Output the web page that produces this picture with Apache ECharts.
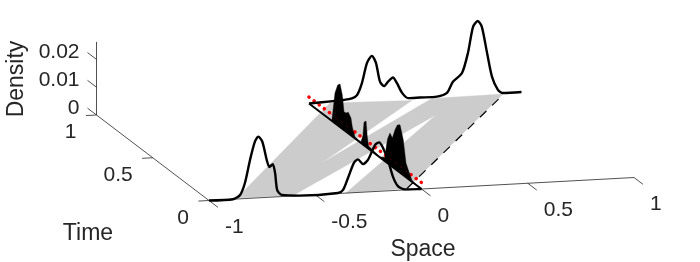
<!DOCTYPE html>
<html><head><meta charset="utf-8">
<style>html,body{margin:0;padding:0;background:#fff}#c{width:700px;height:262px}</style>
<script src="https://cdn.jsdelivr.net/npm/echarts@6/dist/echarts.min.js"></script>
</head><body><div id="c"></div>
<script>
// --- data ---
const frontSpace = [-1,-.887,-.854,-.831,-.807,-.784,-.768,-.749,-.728,-.716,-.700,-.689,-.679,-.658,-.572,-.393,-.369,-.346,-.318,-.299,-.275,-.252,-.219,-.199,-.181,-.158,-.134,-.111,-.078,-.007,0];
const frontDensity = [0,0,.00137,.0056,.0138,.0203,.0220,.0201,.0134,.0109,.0118,.0086,.0024,.0006,0,.0002,.0012,.0054,.0107,.0119,.0101,.0115,.0167,.0176,.0155,.0111,.0049,.0015,.0002,0,0];
const backSpace = [0,.113,.160,.202,.226,.249,.273,.296,.315,.334,.353,.372,.395,.414,.438,.466,.522,.602,.649,.677,.720,.748,.772,.794,.813,.838,.861,.889,.913,1];
const backDensity = [0,.0004,.0006,.0010,.0021,.0063,.0135,.0159,.0133,.0065,.0048,.0063,.0077,.0056,.0020,0,0,0,.0011,.0050,.0080,.0151,.0244,.0264,.0243,.0147,.0061,.0012,0,0];
const histTime = [.796,.769,.745,.724,.704,.689,.671,.651,.627,.615,.591,.538,.520,.511,.493,.482,.471,.369,.324,.311,.300,.280,.259,.236,.215,.191,.162,.138,.108,.084,.049];
const histDensity = [.0003,.0109,.0145,.0155,.0122,.0066,.0067,.0076,.0063,.0034,.0005,.0003,.0034,.0083,.0093,.0040,.0010,.0002,.0015,.0063,.0090,.0115,.0104,.0140,.0164,.0172,.0127,.0051,.0024,.0005,0];
const bandSpace = [-.863,.095,.469,-.288,.568,.907,-.061,-.355,.491,-.602];
const bandTime = [.011,.993,.972,.343,.982,.989,.014,.001,.799,.005];
const dashSpace = [-.061,.907];
const dashTime = [.014,.985];
const redDensity = .0023;
const histSpans = [[.80,.59],[.32,.09]];
const spaceTicks = [-1,-.5,0,.5,1];
const timeTicks = [0,.5,1];
const densityTicks = [0,.01,.02];
const densityTop = .0263;
const spaceLabels = ['-1','-0.5','0','0.5','1'];
const timeLabels = ['0','0.5','1'];
const densityLabels = ['0','0.01','0.02'];

// --- oblique view of (space,time,density) on the page plane ---
const project = (s,t,z) => [209+212.5*(s+1)-112.5*t, 200.5-11.5*(s+1)-85.5*t-2780*z];

const INK='#262626', FONT='"Liberation Sans",Arial,sans-serif';
const line = (pts,o) => ({type:'line',symbol:'none',silent:true,animation:false,clip:false,
  data:pts,lineStyle:{color:o.color,width:o.width,type:o.dash||'solid',cap:o.cap||'butt',join:'round'},smooth:o.smooth||false,z:o.z||2});
const poly = (pts,color,z) => ({type:'custom',silent:true,animation:false,clip:false,z:z,coordinateSystem:'cartesian2d',
  data:[0],renderItem:(p,api)=>({type:'polygon',shape:{points:pts.map(q=>api.coord(q))},style:{fill:color,stroke:color,lineWidth:0.4}})});
const texts = (items,z) => ({type:'custom',silent:true,animation:false,clip:false,z:z,coordinateSystem:'cartesian2d',
  data:items.map((_,i)=>i),renderItem:(p,api)=>{const it=items[api.value(0)];const c=api.coord(it.at);
    return {type:'text',x:c[0]+it.dx,y:c[1]+it.dy,style:{text:it.text,fill:INK,font:'21px '+FONT,align:it.align,verticalAlign:'middle'}};}});

const series=[];
series.push(poly(bandSpace.map((s,i)=>project(s,bandTime[i],0)),'#cccccc',1));
series.push(line(dashSpace.map((s,i)=>project(s,dashTime[i],0)),{color:'#000',width:1.2,dash:[9,8],z:2}));
// axes
const axisStyle={color:INK,width:0.8,z:3};
series.push(line([project(-1,0,0),project(1,0,0)],axisStyle));
series.push(line([project(-1,0,0),project(-1,1,0)],axisStyle));
series.push(line([project(-1,1,0),project(-1,1,densityTop)],axisStyle));
spaceTicks.forEach(s=>series.push(line([project(s,0,0),project(s,-.08,0)],axisStyle)));
timeTicks.forEach(t=>series.push(line([project(-1,t,0),project(-1.05,t,0)],axisStyle)));
densityTicks.forEach(z=>series.push(line([project(-1,1,z),project(-1,1.08,z)],axisStyle)));
// section at space = 0
series.push(line([project(0,1,0),project(0,0,0)],{color:'#000',width:2,z:4}));
series.push(line([project(0,1,redDensity),project(0,0,redDensity)],{color:'#ff0000',width:3.6,dash:[0.01,6.4],cap:'round',z:5}));
series.push(poly([project(0,histTime[0],0),...histTime.map((t,i)=>project(0,t,histDensity[i])),project(0,histTime[histTime.length-1],0)],'#000',6));
histSpans.forEach(sp=>series.push(line([project(0,sp[0],redDensity),project(0,sp[1],redDensity)],{color:'#c00000',width:0.9,dash:[1,5.4],z:7})));
// edge curves
series.push(line(frontSpace.map((s,i)=>project(s,0,frontDensity[i])),{color:'#000',width:2.4,smooth:.25,z:8}));
series.push(line(backSpace.map((s,i)=>project(s,1,backDensity[i])),{color:'#000',width:2.4,smooth:.25,z:8}));
// tick labels
series.push(texts([
  ...spaceTicks.map((s,i)=>({at:project(s,0,0),dx:16,dy:27,align:'left',text:spaceLabels[i]})),
  ...timeTicks.map((t,i)=>({at:project(-1,t,0),dx:-20,dy:17.5,align:'right',text:timeLabels[i]})),
  ...densityTicks.map((z,i)=>({at:project(-1,1,z),dx:-17,dy:-7,align:'right',text:densityLabels[i]}))
],9));

const chart=echarts.init(document.getElementById('c'),null,{renderer:'canvas'});
chart.setOption({
  animation:false,backgroundColor:'#fff',
  grid:{left:0,right:0,top:0,bottom:0},
  xAxis:{type:'value',min:0,max:700,show:false},
  yAxis:{type:'value',min:0,max:262,inverse:true,show:false},
  series,
  graphic:[
    {type:'text',x:88,y:234,style:{text:'Time',font:'23px '+FONT,fill:INK,align:'center',verticalAlign:'middle'}},
    {type:'text',x:423,y:250,style:{text:'Space',font:'23px '+FONT,fill:INK,align:'center',verticalAlign:'middle'}},
    {type:'text',x:17,y:79,rotation:Math.PI/2,style:{text:'Density',font:'23px '+FONT,fill:INK,align:'center',verticalAlign:'middle'}}
  ]
});
</script></body></html>
